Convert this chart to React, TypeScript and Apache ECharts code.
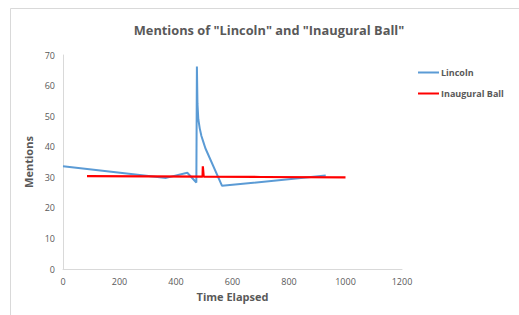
import React, { useEffect, useRef } from "react";
import * as echarts from "echarts";

const title = 'Mentions of "Lincoln" and "Inaugural Ball"';
const xAxisName = "Time Elapsed";
const yAxisName = "Mentions";
const lincolnName = "Lincoln";
const ballName = "Inaugural Ball";

const lincolnX = [0, 365, 440, 472, 474, 476, 479, 484, 490, 497, 504, 563, 930];
const lincolnY = [33.6, 29.8, 31.5, 28.3, 66.2, 54, 49, 46, 43.5, 41.5, 39.5, 27.2, 30.6];

const ballX = [85, 300, 494, 495, 497, 498, 700, 1000];
const ballY = [30.4, 30.3, 30.2, 33.6, 33.6, 30.2, 30.1, 30.0];

export default function App() {
  const ref = useRef<HTMLDivElement>(null);
  useEffect(() => {
    document.body.style.margin = "0";
    if (!ref.current) return;
    const chart = echarts.init(ref.current, null, { renderer: "svg" });
    const font = "'Open Sans', 'Liberation Sans', sans-serif";
    const grey = "#595959";
    chart.setOption({
      animation: false,
      backgroundColor: "#ffffff",
      title: {
        text: title,
        left: 264,
        top: 18,
        textAlign: "center",
        textStyle: { color: grey, fontSize: 12.8, fontWeight: "bold", fontFamily: font },
      },
      graphic: [
        {
          type: "rect",
          shape: { x: 10.5, y: 8.5, width: 520, height: 320 },
          style: { fill: "none", stroke: "#d9d9d9", lineWidth: 1 },
          silent: true,
        },
      ],
      legend: {
        orient: "vertical",
        left: 413,
        top: 63,
        itemWidth: 21,
        itemHeight: 2,
        itemGap: 12,
        icon: "rect",
        textStyle: { color: grey, fontSize: 9, fontWeight: "bold", fontFamily: font, padding: [0, 0, 0, -3] },
        data: [lincolnName, ballName],
      },
      grid: { left: 63, right: 117, top: 55, bottom: 46 },
      xAxis: {
        type: "value",
        min: 0,
        max: 1200,
        interval: 200,
        name: xAxisName,
        nameLocation: "middle",
        nameGap: 22,
        nameTextStyle: { color: grey, fontSize: 11, fontWeight: "bold", fontFamily: font },
        axisLine: { show: true, lineStyle: { color: "#d9d9d9", width: 1 } },
        axisTick: { show: false },
        splitLine: { show: false },
        axisLabel: { color: grey, fontSize: 9, fontFamily: font, margin: 8, formatter: (v: number) => String(v) },
      },
      yAxis: {
        type: "value",
        min: 0,
        max: 70,
        interval: 10,
        name: yAxisName,
        nameLocation: "middle",
        nameGap: 25,
        nameTextStyle: { color: grey, fontSize: 11, fontWeight: "bold", fontFamily: font },
        axisLine: { show: true, lineStyle: { color: "#d9d9d9", width: 1 } },
        axisTick: { show: false },
        splitLine: { show: false },
        axisLabel: { color: grey, fontSize: 9, fontFamily: font, margin: 8 },
      },
      series: [
        {
          name: lincolnName,
          type: "line",
          data: lincolnX.map((x, i) => [x, lincolnY[i]]),
          showSymbol: false,
          symbol: "none",
          lineStyle: { color: "#5b9bd5", width: 2 },
          itemStyle: { color: "#5b9bd5" },
        },
        {
          name: ballName,
          type: "line",
          data: ballX.map((x, i) => [x, ballY[i]]),
          showSymbol: false,
          symbol: "none",
          lineStyle: { color: "#ff0000", width: 2.2 },
          itemStyle: { color: "#ff0000" },
        },
      ],
    });
    return () => chart.dispose();
  }, []);
  return <div ref={ref} style={{ width: 519, height: 315 }} />;
}
